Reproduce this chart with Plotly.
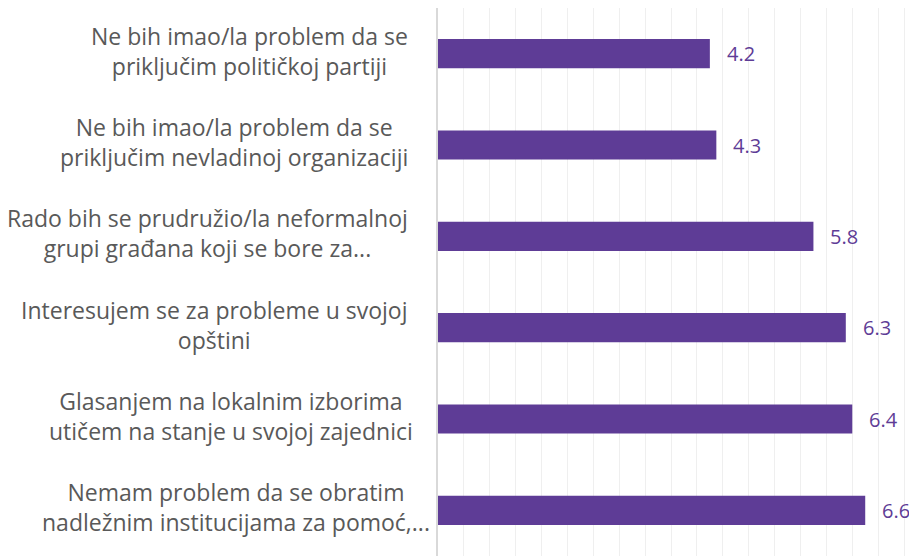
import plotly.graph_objects as go

categories = [
    "Ne bih imao/la problem da se<br>priključim političkoj partiji",
    "Ne bih imao/la problem da se<br>priključim nevladinoj organizaciji",
    "Rado bih se prudružio/la neformalnoj<br>grupi građana koji se bore za...",
    "Interesujem se za probleme u svojoj<br>opštini",
    "Glasanjem na lokalnim izborima<br>utičem na stanje u svojoj zajednici",
    "Nemam problem da se obratim<br>nadležnim institucijama za pomoć,...",
]
values = [4.2, 4.3, 5.8, 6.3, 6.4, 6.6]
value_labels = ["4.2", "4.3", "5.8", "6.3", "6.4", "6.6"]

# per-label horizontal offset of the category text block (style only)
label_shift = [-28, -28, -28, -28, -23, -6]

bar_color = "#5E3C96"
label_color = "#595959"
font_family = "Open Sans, sans-serif"

fig = go.Figure()
fig.add_trace(go.Bar(
    x=values,
    y=categories,
    orientation="h",
    marker=dict(color=bar_color, line=dict(width=0)),
    width=0.32,
    hoverinfo="skip",
))

annotations = []
for cat, v, t, sh in zip(categories, values, value_labels, label_shift):
    annotations.append(dict(
        x=v, y=cat, xref="x", yref="y", text=t, showarrow=False,
        xanchor="left", xshift=15, yshift=0,
        font=dict(family=font_family, size=20, color=bar_color),
    ))
    annotations.append(dict(
        x=0, y=cat, xref="paper", yref="y", text=cat, showarrow=False,
        xanchor="right", xshift=sh, yshift=3, align="center",
        font=dict(family=font_family, size=23, color=label_color),
    ))

fig.update_layout(
    width=909, height=548,
    margin=dict(l=429.5, r=0, t=0, b=0),
    paper_bgcolor="white", plot_bgcolor="white",
    showlegend=False,
    annotations=annotations,
    xaxis=dict(range=[0, 7.4], dtick=0.4, tick0=0, showticklabels=False,
               showgrid=True, gridcolor="#EFEFEF", gridwidth=1,
               zeroline=False, showline=False, ticks=""),
    yaxis=dict(autorange="reversed", showticklabels=False, showgrid=False,
               showline=True, linecolor="#D9D9D9", linewidth=1.5, ticks="",
               zeroline=False),
)

fig.write_html("out.html")
